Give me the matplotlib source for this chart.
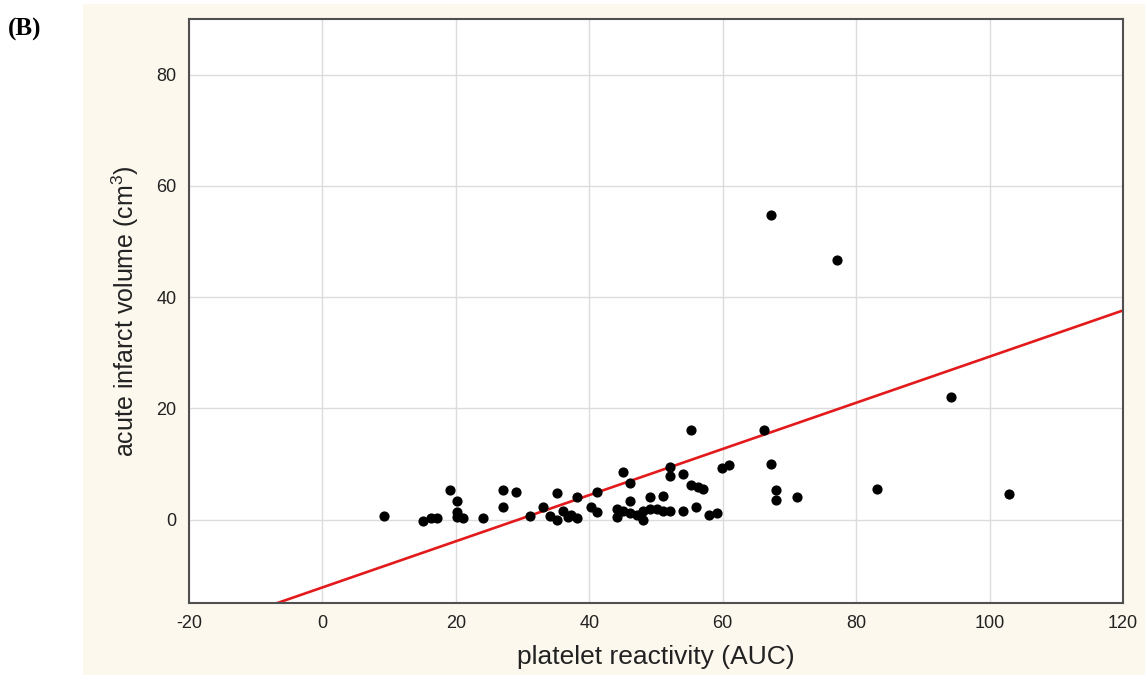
import numpy as np
import matplotlib.pyplot as plt

# datos (AUC vs volumen de infarto agudo)
auc = [9.2, 15.1, 16.2, 17.1, 19.1, 20.2, 20.1, 20.2, 21.1, 24.1,
       27.1, 29.0, 27.1, 31.1, 33.0, 34.1, 35.1, 35.1, 36.1, 36.8,
       37.3, 38.2, 38.2, 40.2, 41.1, 41.1, 44.1, 44.1, 45.1, 45.1,
       46.1, 46.1, 46.1, 47.1, 48.1, 48.1, 49.1, 49.1, 50.1, 51.1,
       51.1, 52.1, 52.1, 52.1, 54.0, 54.0, 55.3, 55.2, 56.0, 56.3,
       57.0, 58.0, 59.1, 59.9, 61.0, 66.2, 67.2, 67.2, 68.0, 68.0,
       71.2, 77.1, 83.2, 94.2, 102.9]
volume = [0.7, -0.2, 0.2, 0.3, 5.3, 3.4, 1.3, 0.5, 0.2, 0.2,
          5.3, 4.9, 2.2, 0.6, 2.2, 0.7, 4.7, 0.0, 1.6, 0.4,
          0.9, 0.3, 4.0, 2.2, 4.9, 1.4, 1.9, 0.4, 8.6, 1.6,
          6.5, 3.4, 1.2, 0.8, 1.6, 0.0, 4.0, 1.9, 1.9, 4.3,
          1.5, 1.6, 9.4, 7.9, 8.2, 1.5, 6.3, 16.1, 2.2, 5.9,
          5.5, 0.9, 1.1, 9.3, 9.9, 16.1, 10.0, 54.8, 5.3, 3.5,
          4.0, 46.6, 5.5, 22.1, 4.6]

# recta de regresion
intercept = -12.2
slope = 0.415

xticks = [-20, 0, 20, 40, 60, 80, 100, 120]
yticks = [0, 20, 40, 60, 80]

plt.rcParams['font.family'] = ['Liberation Sans', 'DejaVu Sans']
plt.rcParams['mathtext.default'] = 'regular'
plt.rcParams['axes.unicode_minus'] = False

fig = plt.figure(figsize=(11.45, 6.75), dpi=100)
fig.patch.set_facecolor('white')

# fondo beige del panel (ejes vacios detras)
bg = fig.add_axes([83 / 1145, 0, 1 - 83 / 1145, 1 - 4 / 675], zorder=-1)
bg.set_facecolor('#fcf8ee')
bg.set_xticks([])
bg.set_yticks([])
for sp in bg.spines.values():
    sp.set_visible(False)

ax = fig.add_axes([189 / 1145, 1 - 603 / 675, (1123 - 189) / 1145, (603 - 19) / 675])
ax.set_facecolor('white')

ax.scatter(auc, volume, s=40, color='black', zorder=3)

xs = np.array([-20, 120])
ax.plot(xs, intercept + slope * xs, color='#e31a1c', linewidth=1.9, zorder=2)

ax.set_xlim(-20, 120)
ax.set_ylim(-15, 90)
ax.set_xticks(xticks)
ax.set_yticks(yticks)
ax.grid(True, color='#dcdcdc', linewidth=1.0)
ax.set_axisbelow(True)
ax.tick_params(length=0, labelsize=13, labelcolor='#222222', pad=9)

for sp in ax.spines.values():
    sp.set_color('#505050')
    sp.set_linewidth(1.5)

ax.set_xlabel('platelet reactivity (AUC)', fontsize=19, color='#222222', labelpad=9)
ax.set_ylabel('acute infarct volume (cm$^3$)', fontsize=18, color='#222222', labelpad=11)

fig.text(8 / 1145, 1 - 36 / 675, '(B)', fontsize=18, fontweight='bold',
         family=['Liberation Serif', 'DejaVu Serif'])

fig.savefig('out.png', dpi=100)
